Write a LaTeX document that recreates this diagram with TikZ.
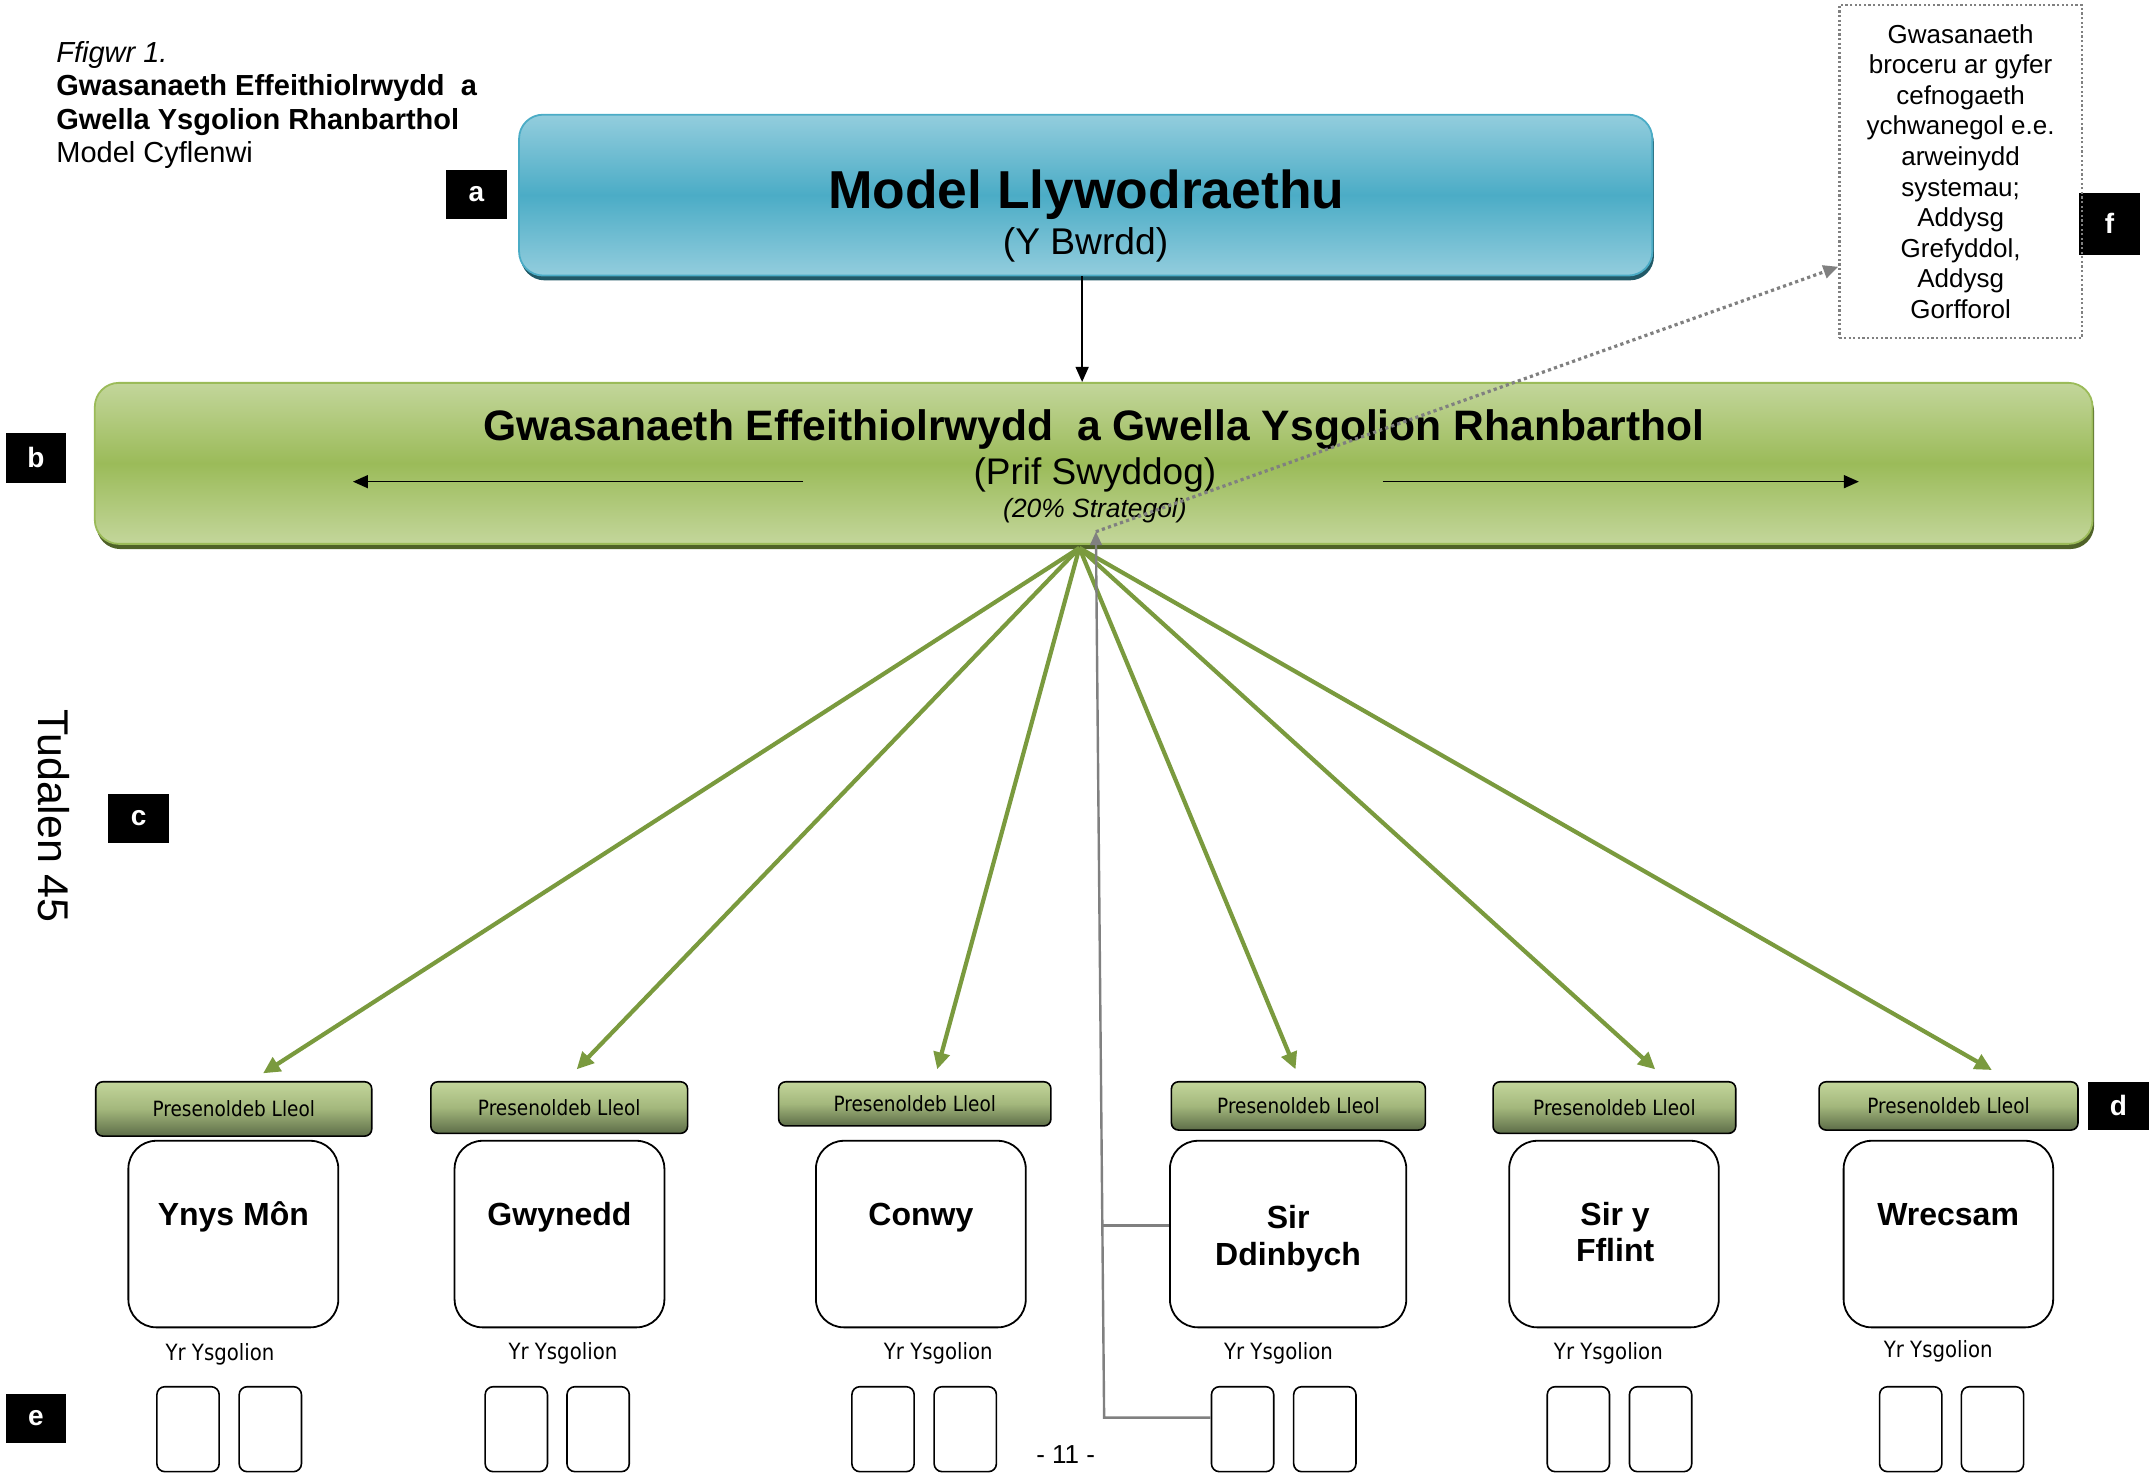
\documentclass[tikz,border=0pt]{standalone}
\usepackage{fontspec}
\setmainfont{Liberation Sans}
\newfontfamily\tahoma[FakeStretch=0.88]{DejaVu Sans}
\usetikzlibrary{arrows.meta,shadows}
\newcommand{\dpu}{0.6875pt}
\definecolor{bluelight}{HTML}{93CDDD}
\definecolor{bluemid}{HTML}{4BACC6}
\definecolor{blueborder}{HTML}{4BACC6}
\definecolor{blueshadow}{HTML}{215967}
\definecolor{greenlight}{HTML}{C3D69B}
\definecolor{greenmid}{HTML}{9BBB59}
\definecolor{greenborder}{HTML}{9BBB59}
\definecolor{greenshadow}{HTML}{4F6228}
\definecolor{preslight}{HTML}{C3D69B}
\definecolor{presmid}{HTML}{A3B77C}
\definecolor{presdark}{HTML}{5D6D48}
\definecolor{arrowgreen}{HTML}{7A9A3E}
\definecolor{linegray}{HTML}{808080}
\begin{document}
\begin{tikzpicture}[x=0.6875pt,y=-0.6875pt,
  txt/.style={inner sep=0pt,anchor=base},
  lbl/.style={fill=black,text=white,font=\fontsize{14}{16}\selectfont\bfseries,inner sep=0pt,minimum width=44*\dpu,minimum height=36*\dpu},
  bluebox/.style={draw=blueborder,line width=0.9pt,rounded corners=12pt,top color=bluelight,bottom color=bluelight,middle color=bluemid,
    drop shadow={shadow xshift=0.8pt,shadow yshift=-2.4pt,fill=blueshadow,opacity=1},inner sep=0pt},
  greenbox/.style={draw=greenborder,line width=0.9pt,rounded corners=12pt,top color=greenlight,bottom color=greenlight,middle color=greenmid,
    drop shadow={shadow xshift=0.8pt,shadow yshift=-2.6pt,fill=greenshadow,opacity=1},inner sep=0pt},
  pres/.style={draw=black,line width=0.8pt,rounded corners=3.5pt,top color=preslight,bottom color=presdark,middle color=presmid,inner sep=0pt,
    font=\tahoma\fontsize{10.5}{12}\selectfont},
  region/.style={draw=black,line width=0.9pt,rounded corners=14pt,fill=white,minimum height=135.7*\dpu,inner sep=0pt},
  school/.style={draw=black,line width=0.8pt,rounded corners=4pt,fill=white,minimum width=45.3*\dpu,minimum height=61.8*\dpu,inner sep=0pt},
  rname/.style={txt,font=\fontsize{16}{18}\selectfont\bfseries},
  ysg/.style={txt,font=\tahoma\fontsize{11.2}{13}\selectfont},
  blkarrow/.style={draw=black,line width=0.75pt,-{Triangle[length=7.5pt,width=6.5pt]}},
  garrow/.style={draw=arrowgreen,line width=2.1pt,-{Triangle[length=8.5pt,width=8pt]}},
  gline/.style={draw=linegray,line width=1.2pt},
  dotarrow/.style={draw=linegray,line width=1.6pt,dash pattern=on 1.6pt off 1.6pt,-{Triangle[length=7.5pt,width=6.5pt]}},
  fnote/.style={draw=linegray,line width=1.1pt,dash pattern=on 1.1pt off 1.2pt,inner sep=0pt,align=center,
    font=\fontsize{13}{15.3}\selectfont,minimum width=176.3*\dpu,minimum height=242.2*\dpu}
]
\path[use as bounding box] (0,0) rectangle (1568,1074.9);

% caption
\node[txt,anchor=base west,font=\fontsize{14.5}{16}\selectfont\itshape] (cap1) at (40.7,45.8) {Ffigwr 1.};
\node[txt,anchor=base west,font=\fontsize{14.5}{16}\selectfont\bfseries] (cap2) at (40.7,69.8) {Gwasanaeth Effeithiolrwydd\ \ a};
\node[txt,anchor=base west,font=\fontsize{14.5}{16}\selectfont\bfseries] (cap3) at (40.7,94.2) {Gwella Ysgolion Rhanbarthol};
\node[txt,anchor=base west,font=\fontsize{14.5}{16}\selectfont] (cap4) at (40.7,118.5) {Model Cyflenwi};

% letter labels
\node[lbl] (la) at (346.4,141.3) {a};
\node[lbl] (lb) at (26.2,333) {b};
\node[lbl] (lc) at (100.9,595.2) {c};
\node[lbl,minimum height=35*\dpu] (ld) at (1540.7,804.3) {d};
\node[lbl] (le) at (26.2,1031.5) {e};
\node[lbl,minimum height=45.4*\dpu] (lf) at (1534.2,162.8) {f};

% page marks
\node[txt,rotate=-90,font=\fontsize{21.5}{24}\selectfont] (tud) at (27.9,593.4) {Tudalen 45};
\node[txt,font=\fontsize{13}{15}\selectfont] (pg) at (775,1064) {- 11 -};

% board
\node[bluebox,minimum width=824.2*\dpu,minimum height=117*\dpu] (board) at (789.6,141.9) {};
\node[txt,font=\fontsize{26.7}{30}\selectfont\bfseries] (boardtitle) at (790,151.3) {Model Llywodraethu};
\node[txt,font=\fontsize{18.6}{22}\selectfont] (boardsub) at (789.5,185) {(Y Bwrdd)};

% regional service
\node[greenbox,minimum width=1452.9*\dpu,minimum height=117.1*\dpu] (gesr) at (795.4,337) {};
\node[txt,font=\fontsize{21.3}{24}\selectfont\bfseries] (gesrtitle) at (795.5,320) {Gwasanaeth Effeithiolrwydd\ \ a Gwella Ysgolion Rhanbarthol};
\node[txt,font=\fontsize{18.5}{22}\selectfont] (gesrsub) at (796.3,352.5) {(Prif Swyddog)};
\node[txt,font=\fontsize{13.2}{15}\selectfont\itshape] (gesrpct) at (796.3,376.3) {(20\% Strategol)};

% note box
\node[fnote] (fnote) at (1425.9,124.7) {Gwasanaeth\\broceru ar gyfer\\cefnogaeth\\ychwanegol e.e.\\arweinydd\\systemau;\\Addysg\\Grefyddol,\\Addysg\\Gorfforol};

% local presence boxes
\node[pres,minimum width=200.7*\dpu,minimum height=39.5*\dpu] (p1) at (170,806.5) {Presenoldeb Lleol};
\node[pres,minimum width=186.7*\dpu,minimum height=37.5*\dpu] (p2) at (406.7,805.5) {Presenoldeb Lleol};
\node[pres,minimum width=198*\dpu,minimum height=32.1*\dpu] (p3) at (665.3,802.8) {Presenoldeb Lleol};
\node[pres,minimum width=184.7*\dpu,minimum height=35.1*\dpu] (p4) at (944.3,804.3) {Presenoldeb Lleol};
\node[pres,minimum width=176.5*\dpu,minimum height=37.5*\dpu] (p5) at (1174.1,805.5) {Presenoldeb Lleol};
\node[pres,minimum width=188.3*\dpu,minimum height=35.1*\dpu] (p6) at (1417.1,804.3) {Presenoldeb Lleol};

% authority boxes
\node[region,minimum width=152.7*\dpu] (r1) at (169.7,897.5) {};
\node[region,minimum width=152.6*\dpu] (r2) at (406.9,897.5) {};
\node[region,minimum width=152.6*\dpu] (r3) at (669.7,897.5) {};
\node[region,minimum width=171.9*\dpu] (r4) at (936.8,897.5) {};
\node[region,minimum width=152.4*\dpu] (r5) at (1173.8,897.5) {};
\node[region,minimum width=152.4*\dpu] (r6) at (1417,897.5) {};
\node[rname] (n1) at (169.7,891) {Ynys Môn};
\node[rname] (n2) at (406.9,891) {Gwynedd};
\node[rname] (n3) at (669.7,891) {Conwy};
\node[rname] (n4a) at (936.8,893.3) {Sir};
\node[rname] (n4b) at (936.8,920) {Ddinbych};
\node[rname] (n5a) at (1174.6,891) {Sir y};
\node[rname] (n5b) at (1174.6,917.6) {Fflint};
\node[rname] (n6) at (1416.8,891) {Wrecsam};

% schools
\node[ysg] (y1) at (160,989.8) {Yr Ysgolion};
\node[ysg] (y2) at (409.4,989) {Yr Ysgolion};
\node[ysg] (y3) at (682.4,989) {Yr Ysgolion};
\node[ysg] (y4) at (929.8,989) {Yr Ysgolion};
\node[ysg] (y5) at (1169.7,989) {Yr Ysgolion};
\node[ysg] (y6) at (1409.6,987) {Yr Ysgolion};
\node[school] (s1a) at (136.75,1039.4) {};
\node[school] (s1b) at (196.6,1039.4) {};
\node[school] (s2a) at (375.5,1039.4) {};
\node[school] (s2b) at (435,1039.4) {};
\node[school] (s3a) at (642.2,1039.4) {};
\node[school] (s3b) at (702,1039.4) {};
\node[school] (s4a) at (903.7,1039.4) {};
\node[school] (s4b) at (963.5,1039.4) {};
\node[school] (s5a) at (1147.9,1039.4) {};
\node[school] (s5b) at (1207.7,1039.4) {};
\node[school] (s6a) at (1389.6,1039.4) {};
\node[school] (s6b) at (1449.1,1039.4) {};

% connectors
\coordinate (dx) at (787,0);
\draw[blkarrow] (board.south -| dx) -- (gesr.north -| dx);
\coordinate (la1) at (584,350.3);
\coordinate (la2) at (256.7,350.3);
\coordinate (ra1) at (1005.8,350.3);
\coordinate (ra2) at (1351.9,350.3);
\draw[blkarrow] (la1) -- (la2);
\draw[blkarrow] (ra1) -- (ra2);

\coordinate (hub) at (785,398.5);
\coordinate (t1) at (191.3,780.6);
\coordinate (t2) at (419.4,777.7);
\coordinate (t3) at (681.6,777.7);
\coordinate (t4) at (942.2,777.7);
\coordinate (t5) at (1203.8,777.7);
\coordinate (t6) at (1448.6,778.2);
\foreach \t in {t1,t2,t3,t4,t5,t6} \draw[garrow] (hub) -- (\t);

\coordinate (gb) at (803,1031);
\coordinate (gm) at (801.7,891.4);
\coordinate (gt) at (797,386.7);
\draw[gline,-{Triangle[length=6.7pt,width=5.8pt]}] (gb -| s4a.west) -- (gb) -- (gt);
\draw[gline] (gm) -- (gm -| r4.west);

\coordinate (ft) at (1337,194);
\draw[dotarrow] (gt) -- (ft);
\end{tikzpicture}
\end{document}
